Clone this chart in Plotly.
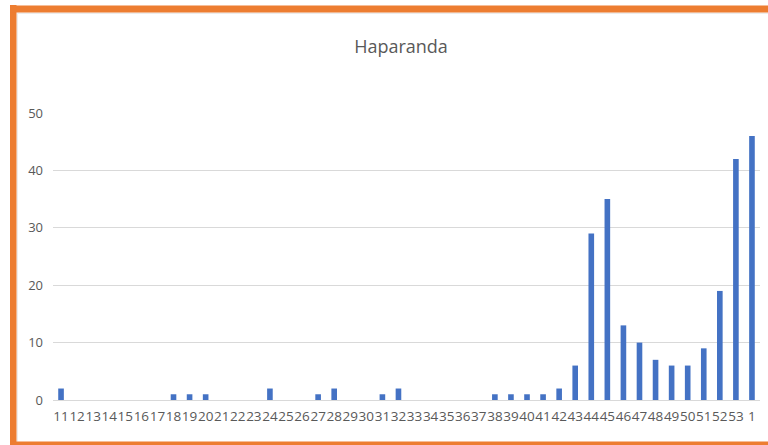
import plotly.graph_objects as go

# Week numbers (11..53, then 1) and case counts
weeks = [str(w) for w in range(11, 54)] + ["1"]
cases = [2, 0, 0, 0, 0, 0, 0, 1, 1, 1,
         0, 0, 0, 2, 0, 0, 1, 2, 0, 0,
         1, 2, 0, 0, 0, 0, 0, 1, 1, 1,
         1, 2, 6, 29, 35, 13, 10, 7, 6, 6,
         9, 19, 42, 46]
y_ticks = [0, 10, 20, 30, 40, 50]

W, H = 768, 445
L, R, T, B = 53, 8, 113, 45
BLUE = "#4472C4"
GREY_TEXT = "#595959"
GRID = "#D9D9D9"
ORANGE = "#ED7D31"


def px_x(p):
    return (p - L) / (W - L - R)


def px_y(p):
    return (H - B - p) / (H - T - B)


def band(x0, x1, y0, y1, color):
    return dict(type="rect", xref="paper", yref="paper",
                x0=px_x(x0), x1=px_x(x1), y0=px_y(y1), y1=px_y(y0),
                line=dict(width=0), fillcolor=color, layer="above")


fig = go.Figure(go.Bar(
    x=weeks,
    y=cases,
    marker=dict(color=BLUE, line=dict(width=0)),
    width=0.35,
))

# orange frame (screenshot is cropped on the right) with faint grey inner edge
shapes = [
    band(760.5, 768, 14, 441.5, "white"),
    band(16.5, 768, 12.5, 14, "#ECECEC"),
    band(16.5, 18, 12.5, 441.5, "#ECECEC"),
    band(10, 16.5, 5, 445, ORANGE),
    band(10, 768, 5.5, 12.5, ORANGE),
    band(10, 768, 441.5, 446, ORANGE),
]

fig.update_layout(
    width=W, height=H,
    margin=dict(l=L, r=R, t=T, b=B),
    paper_bgcolor="white",
    plot_bgcolor="white",
    font=dict(family="Open Sans, Calibri, sans-serif", color=GREY_TEXT, size=12),
    title=dict(text="Haparanda", x=401 / W, xanchor="center",
               y=1 - 47 / H, yanchor="middle", yref="container",
               font=dict(size=18, color=GREY_TEXT)),
    showlegend=False,
    shapes=shapes,
    xaxis=dict(
        type="category",
        showgrid=False,
        showline=True, linecolor=GRID, linewidth=1,
        ticks="", tickangle=0,
        ticklabelstandoff=4,
        tickfont=dict(size=13.5, color=GREY_TEXT),
    ),
    yaxis=dict(
        range=[0, 50],
        tickvals=y_ticks,
        showgrid=True, gridcolor=GRID, gridwidth=1,
        zeroline=False, showline=False,
        ticks="", ticklabelstandoff=9,
        tickfont=dict(size=13, color=GREY_TEXT),
    ),
)

# drop the default body margin and any scrollbars so the figure fills the window
fig.write_html(
    "out.html",
    config={"displayModeBar": False},
    post_script=(
        "document.body.style.margin='0px';"
        "document.body.style.overflow='hidden';"
        "document.documentElement.style.overflow='hidden';"
    ),
)
